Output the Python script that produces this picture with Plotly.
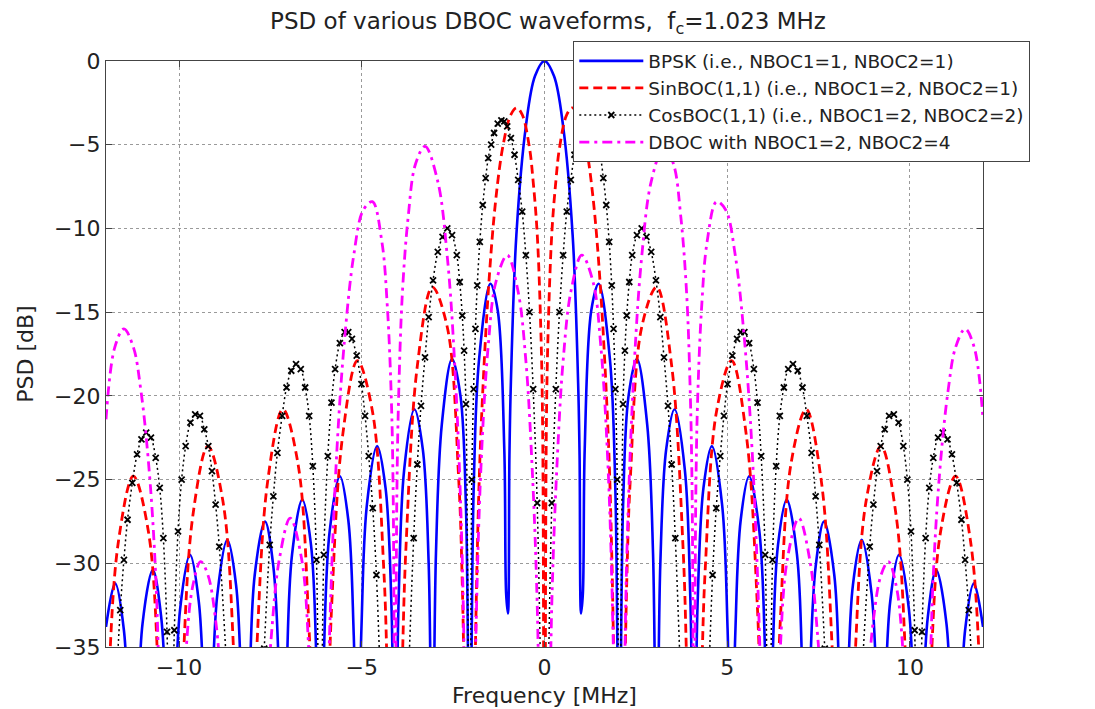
import plotly.graph_objects as go

# ---------------- data (right half, f >= 0; the spectra are symmetric) ----------------
# Frequency in MHz, PSD in dB. Values below -35 dB are outside the visible axis (nulls).
bpsk_freq = [0, 0.26, 0.51, 0.77, 0.92, 0.96, 1.0, 1.05, 1.1, 1.28, 1.48, 1.79, 1.94, 2.046,
             2.15, 2.30, 2.53, 2.81, 2.97, 3.069,
             3.17, 3.33, 3.56, 3.84, 3.99, 4.092,
             4.19, 4.35, 4.58, 4.86, 5.01, 5.115,
             5.22, 5.37, 5.60, 5.88, 6.04, 6.138,
             6.24, 6.39, 6.63, 6.91, 7.06, 7.161,
             7.26, 7.42, 7.65, 7.93, 8.08, 8.184,
             8.29, 8.44, 8.68, 8.95, 9.11, 9.207,
             9.31, 9.46, 9.70, 9.97, 10.13, 10.23,
             10.33, 10.49, 10.72, 11.0, 11.15, 11.253,
             11.36, 11.51, 11.75, 12.0]
bpsk_db = [0, -0.9, -3.9, -10.4, -19.2, -23.6, -33.0, -31.8, -23.2, -14.9, -13.3, -17.8, -25.7, -45,
           -26.6, -20.0, -17.8, -21.7, -29.4, -45,
           -30.0, -23.2, -20.8, -24.4, -32.0, -45,
           -32.4, -25.5, -23.0, -26.5, -33.9, -45,
           -34.3, -27.4, -24.8, -28.1, -35.6, -45,
           -35.9, -28.9, -26.2, -29.5, -36.9, -45,
           -37.0, -30.2, -27.5, -30.7, -38.0, -45,
           -38.0, -31.3, -28.6, -31.8, -39.0, -45,
           -39.0, -32.3, -29.5, -32.7, -40.0, -45,
           -40.0, -33.2, -30.4, -33.6, -41.0, -45,
           -41.0, -34.0, -31.2, -33.8]

sinboc_freq = [0, 0.05, 0.1, 0.2, 0.31, 0.41, 0.61, 0.76, 0.92, 1.13, 1.33, 1.53, 1.74, 1.84, 1.94, 2.046,
               2.25, 2.35, 2.66, 3.07, 3.48, 3.79, 3.89, 4.092,
               4.30, 4.40, 4.71, 5.12, 5.52, 5.83, 6.138,
               6.45, 6.75, 7.16, 7.57, 7.88, 8.184,
               8.49, 8.80, 9.21, 9.62, 9.92, 10.23,
               10.54, 10.84, 11.25, 11.66, 11.97, 12.28]
sinboc_db = [-55, -22.1, -16.1, -10.3, -7.2, -5.2, -3.2, -2.8, -3.2, -5.0, -8.2, -13.5, -22.2, -29.4, -41.7, -55,
             -31.2, -24.9, -15.9, -13.5, -18.2, -29.0, -35.9, -55,
             -36.8, -30.3, -20.9, -17.9, -22.3, -32.8, -55,
             -33.6, -24.0, -20.8, -25.0, -35.4, -55,
             -36.0, -26.3, -23.0, -27.1, -37.5, -55,
             -37.9, -28.1, -24.8, -28.7, -39.0, -55]

cosboc_freq = [0, 0.1, 0.2, 0.31, 0.41, 0.51, 0.61, 0.72, 0.82, 0.92, 1.02, 1.10, 1.18, 1.28, 1.38, 1.46,
               1.54, 1.61, 1.69, 1.77, 1.84, 1.89, 1.94, 1.99, 2.046,
               2.15, 2.20, 2.25, 2.32, 2.40, 2.53, 2.66, 2.79, 2.92, 3.05, 3.17, 3.27, 3.38, 3.48,
               3.58, 3.79, 4.092,
               4.40, 4.60, 4.70, 4.81, 4.91, 5.01, 5.14, 5.27, 5.37, 5.47, 5.60, 5.73, 5.83, 5.93,
               6.04, 6.138,
               6.24, 6.34, 6.44, 6.55, 6.67, 6.80, 6.93, 7.06, 7.18, 7.31, 7.42, 7.52, 7.67, 8.184,
               8.70, 8.90, 9.00, 9.10, 9.20, 9.31, 9.43, 9.56, 9.69, 9.82, 9.93, 10.03, 10.13, 10.23,
               10.33, 10.43, 10.53, 10.64, 10.77, 10.90, 11.03, 11.15, 11.28, 11.41, 11.51, 11.61,
               11.76, 12.28]
cosboc_db = [-60, -38.0, -26.4, -19.6, -15.0, -11.6, -9.0, -7.1, -5.6, -4.6, -3.9, -3.6, -3.55, -3.74, -4.3, -5.0,
             -5.8, -7.0, -8.6, -10.8, -13.4, -16.0, -19.6, -25.0, -45,
             -20.5, -17.3, -15.2, -13.2, -11.6, -10.4, -10.0, -10.5, -11.4, -13.1, -15.3, -17.7, -20.6, -24.1,
             -28.5, -41.0, -60,
             -42.7, -30.7, -26.7, -23.6, -21.2, -19.3, -17.6, -16.6, -16.2, -16.2, -16.85, -18.4, -20.4, -23.6,
             -29.5, -45,
             -29.8, -24.2, -21.2, -19.5, -18.4, -18.1, -18.5, -19.5, -21.2, -23.4, -26.0, -28.9, -35.1, -60,
             -36.2, -29.0, -26.5, -24.5, -23.0, -22.0, -21.2, -21.1, -21.6, -23.0, -25.0, -28.1, -34.0, -45,
             -34.1, -28.5, -25.5, -23.7, -22.5, -22.2, -22.6, -23.5, -25.2, -27.4, -29.8, -32.8,
             -38.8, -60]

dboc_freq = [0, 0.2, 0.36, 0.51, 0.72, 1.02, 1.33, 1.54, 1.74, 1.89, 2.046,
             2.25, 2.46, 2.66, 2.92, 3.27, 3.53, 3.73, 3.89, 3.99, 4.04, 4.092,
             4.14, 4.19, 4.30, 4.45, 4.71, 4.96, 5.22, 5.47, 5.68, 5.88, 6.138,
             6.44, 6.65, 6.96, 7.26, 7.47, 7.67, 8.184,
             8.80, 9.00, 9.21, 9.41, 9.62, 9.82, 10.23,
             10.64, 10.84, 11.05, 11.25, 11.51, 11.76, 12.0]
dboc_db = [-60, -32.4, -23.3, -17.9, -13.8, -11.6, -13.2, -17.0, -24.3, -35.6, -60,
           -29.8, -18.0, -11.7, -7.2, -5.1, -6.15, -9.3, -13.9, -19.9, -25.9, -45,
           -26.1, -20.3, -14.7, -10.8, -8.4, -8.9, -11.6, -16.6, -23.2, -34.1, -60,
           -35.7, -29.7, -27.3, -29.8, -34.2, -41.0, -60,
           -38.7, -33.4, -30.7, -29.9, -31.3, -35.6, -60,
           -30.7, -23.9, -19.6, -17.1, -16.0, -17.1, -21.4]

series_names = ["BPSK (i.e., NBOC1=1, NBOC2=1)",
                "SinBOC(1,1) (i.e., NBOC1=2, NBOC2=1)",
                "CosBOC(1,1) (i.e., NBOC1=2, NBOC2=2)",
                "DBOC with NBOC1=2, NBOC2=4"]

x_ticks = [-10, -5, 0, 5, 10]
y_ticks = [0, -5, -10, -15, -20, -25, -30, -35]


def both_sides(freq, db):
    """Use the symmetry of the spectrum: the left half is the mirror image of the right half."""
    f_full = [-v for v in reversed(freq[1:])] + list(freq)
    d_full = list(reversed(db[1:])) + list(db)
    return f_full, d_full


FONT = "DejaVu Sans"
TXT = "#222222"
fig = go.Figure()

f, d = both_sides(bpsk_freq, bpsk_db)
fig.add_trace(go.Scatter(x=f, y=d, name=series_names[0], mode="lines",
                         line=dict(color="#0000ff", width=2.6, shape="spline", smoothing=1.0)))

f, d = both_sides(sinboc_freq, sinboc_db)
fig.add_trace(go.Scatter(x=f, y=d, name=series_names[1], mode="lines",
                         line=dict(color="#ff0000", width=2.8, dash="9px,5px", shape="spline", smoothing=1.0)))

f, d = both_sides(cosboc_freq, cosboc_db)
fig.add_trace(go.Scatter(x=f, y=d, name=series_names[2], mode="lines+markers",
                         line=dict(color="#000000", width=1.5, dash="2px,3px", shape="spline", smoothing=1.0),
                         marker=dict(symbol="x-thin", size=6, color="#000000",
                                     line=dict(color="#000000", width=1.8))))

f, d = both_sides(dboc_freq, dboc_db)
fig.add_trace(go.Scatter(x=f, y=d, name=series_names[3], mode="lines",
                         line=dict(color="#ff00ff", width=2.8, dash="10px,5px,3px,5px", shape="spline", smoothing=1.0)))

axis_common = dict(showline=True, linecolor="#444444", linewidth=1.3, mirror="ticks",
                   ticks="inside", ticklen=6, tickcolor="#444444", tickwidth=1.3,
                   showgrid=True, gridcolor="#9a9a9a", gridwidth=1, griddash="dot",
                   zeroline=False, tickfont=dict(family=FONT, size=22, color=TXT))

fig.update_layout(
    width=1095, height=709,
    margin=dict(l=98, r=120, t=53, b=70, autoexpand=False),
    paper_bgcolor="white", plot_bgcolor="white",
    font=dict(family=FONT, color=TXT),
    title=dict(text="PSD of various DBOC waveforms, \u00a0f<sub>c</sub>=1.023 MHz",
               x=0.504, xref="paper", xanchor="center", y=0.982, yref="container", yanchor="middle",
               font=dict(family=FONT, size=23, color=TXT)),
    xaxis=dict(range=[-12, 12], tickvals=x_ticks,
               title=dict(text="Frequency [MHz]", font=dict(family=FONT, size=22, color=TXT), standoff=9),
               **axis_common),
    yaxis=dict(range=[-35, 0], tickvals=y_ticks,
               title=dict(text="PSD [dB]", font=dict(family=FONT, size=22, color=TXT), standoff=14),
               **axis_common),
    legend=dict(x=0.5325, y=1.034, xanchor="left", yanchor="top",
                bgcolor="white", bordercolor="#444444", borderwidth=1.3,
                font=dict(family=FONT, size=18.5, color=TXT),
                itemwidth=64, tracegroupgap=0),
    showlegend=True,
)

fig.write_html("out.html")
